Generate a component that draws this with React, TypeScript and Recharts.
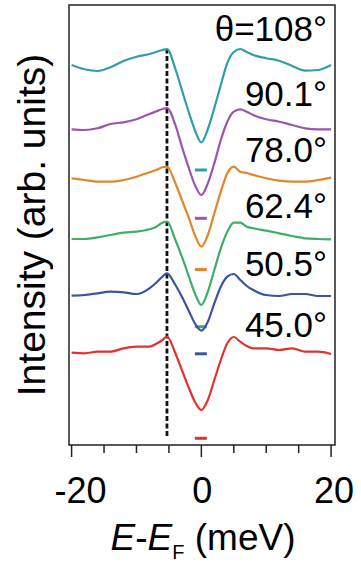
import { LineChart, Line, XAxis, YAxis, ReferenceLine, ReferenceArea } from "recharts";

// energy grid (meV)
const energy = [-20, -18, -16, -14, -12, -10, -8, -7, -6, -5.3, -4, -3, -2, -1, 0, 1, 2, 3, 4, 5, 6, 7, 8, 10, 12, 14, 16, 18, 20];

// stacked spectra (arb. units, offsets included)
const deg108 = [38.0, 37.57, 37.4, 37.77, 38.4, 38.83, 39.1, 39.3, 39.5, 39.6, 37.6, 35.5, 33.4, 31.5, 30.25, 31.6, 33.7, 36.0, 38.2, 39.3, 39.6, 39.3, 39.0, 38.67, 38.43, 37.9, 37.43, 37.5, 38.0];
const deg90 = [31.57, 31.5, 31.67, 32.1, 32.27, 32.57, 33.1, 33.35, 33.6, 33.7, 32.0, 29.83, 27.83, 26.0, 25.0, 26.17, 28.17, 30.5, 32.33, 33.33, 33.57, 33.33, 33.0, 32.57, 32.33, 32.0, 31.67, 31.57, 31.57];
const deg78 = [26.67, 26.5, 26.33, 26.33, 26.5, 26.83, 27.27, 27.5, 27.77, 27.83, 26.17, 24.5, 22.83, 21.0, 19.83, 21.0, 23.17, 25.33, 27.17, 27.83, 27.33, 27.2, 27.0, 26.67, 26.43, 26.33, 26.33, 26.5, 26.73];
const deg62 = [20.6, 20.6, 20.77, 21.0, 21.23, 21.33, 21.57, 21.8, 22.23, 22.35, 20.5, 18.83, 17.0, 15.17, 14.0, 15.33, 17.5, 19.67, 21.33, 22.23, 22.23, 21.83, 21.67, 21.43, 21.17, 20.9, 20.67, 20.6, 20.57];
const deg50 = [14.93, 15.0, 15.17, 15.33, 15.27, 15.1, 15.67, 16.2, 16.83, 17.17, 16.0, 14.83, 13.5, 12.17, 11.43, 12.33, 14.17, 15.83, 16.83, 17.1, 16.5, 15.9, 15.5, 15.0, 14.9, 15.1, 15.1, 14.9, 14.9];
const deg45 = [9.23, 9.17, 9.33, 9.33, 9.67, 9.83, 9.83, 10.1, 10.5, 10.85, 9.17, 7.5, 5.83, 4.33, 3.5, 4.5, 6.5, 8.5, 10.17, 10.8, 10.33, 9.9, 9.67, 9.67, 9.5, 9.67, 9.33, 9.33, 9.1];

const seriesKeys = ["d108", "d90", "d78", "d62", "d50", "d45"];
const seriesColors = ["#2f9ea6", "#9657ad", "#e3852c", "#3cae68", "#3a53a2", "#e5312d"];
const seriesLabels = ["θ=108°", "90.1°", "78.0°", "62.4°", "50.5°", "45.0°"];
// zero-intensity marks under each curve
const zeroLevels = [27.5, 22.67, 17.55, 11.83, 9.12, 0.67];
const zeroMarkRange = [-1.0, 0.85];
// dashed guide
const guideEnergy = -5.3;
const guideRange = [0.9, 39.6];

const xTicks = [-20, -15, -10, -5, 0, 5, 10, 15, 20];
const xMajor = [-20, 0, 20];

const allSeries = [deg108, deg90, deg78, deg62, deg50, deg45];
const data = energy.map((e, i) => {
  const row: Record<string, number> = { e };
  seriesKeys.forEach((k, j) => {
    row[k] = allSeries[j][i];
  });
  return row;
});

const FONT = "'Liberation Sans', Arial, Helvetica, sans-serif";

function XTick(props: any) {
  const { x, y, payload } = props;
  const v = payload.value as number;
  const major = xMajor.includes(v);
  const shift = v < 0 ? 9 : v > 0 ? 3 : 1;
  return (
    <g>
      <line x1={x} x2={x} y1={y} y2={y + (major ? 12 : 8)} stroke="#222" strokeWidth={1.5} />
      {major && (
        <text x={x + shift} y={y + 58} textAnchor="middle" fontSize={36} fontFamily={FONT} fill="#000">
          {String(v)}
        </text>
      )}
    </g>
  );
}

const labelBaselines = [40.7, 106, 162, 217.5, 276, 337];

export default function App() {
  return (
    <div style={{ position: "absolute", left: 0, top: 0, width: 361, height: 566, background: "#fff" }}>
      <LineChart
        width={361}
        height={566}
        data={data}
        margin={{ top: 5, right: 26, bottom: 61, left: 69 }}
      >
        <XAxis
          dataKey="e"
          type="number"
          domain={[-20.4, 20.6]}
          ticks={xTicks}
          interval={0}
          allowDataOverflow
          axisLine={false}
          tickLine={false}
          tickSize={0}
          tickMargin={0}
          height={60}
          tick={<XTick />}
        />
        <YAxis type="number" domain={[0, 44]} hide allowDataOverflow />
        <ReferenceArea
          x1={-20.4}
          x2={20.6}
          y1={0}
          y2={44}
          fill="none"
          stroke="#222"
          strokeWidth={1.5}
          fillOpacity={0}
        />
        <ReferenceLine
          segment={[
            { x: guideEnergy, y: guideRange[0] },
            { x: guideEnergy, y: guideRange[1] },
          ]}
          stroke="#111"
          strokeWidth={2.8}
          strokeDasharray="5 2.5"
        />
        {zeroLevels.map((lv, i) => (
          <ReferenceLine
            key={"z" + i}
            segment={[
              { x: zeroMarkRange[0], y: lv },
              { x: zeroMarkRange[1], y: lv },
            ]}
            stroke={seriesColors[i]}
            strokeWidth={3}
          />
        ))}
        {seriesKeys.map((k, i) => (
          <Line
            key={k}
            dataKey={k}
            type="monotone"
            stroke={seriesColors[i]}
            strokeWidth={2.2}
            dot={false}
            isAnimationActive={false}
          />
        ))}
      </LineChart>
      <svg
        width={361}
        height={566}
        style={{ position: "absolute", left: 0, top: 0, pointerEvents: "none" }}
      >
        {seriesLabels.map((t, i) => (
          <text
            key={t}
            x={327}
            y={labelBaselines[i]}
            textAnchor="end"
            fontSize={35}
            fontFamily={FONT}
            fill="#000"
          >
            {t}
          </text>
        ))}
        <text
          transform="translate(45,225) rotate(-90)"
          textAnchor="middle"
          fontSize={39}
          fontFamily={FONT}
          fill="#000"
        >
          Intensity (arb. units)
        </text>
        <text x={203} y={550} textAnchor="middle" fontSize={37} fontFamily={FONT} fill="#000">
          <tspan fontStyle="italic">E</tspan>
          <tspan>-</tspan>
          <tspan fontStyle="italic">E</tspan>
          <tspan fontSize={20} dy={9}>F</tspan>
          <tspan dy={-9}> (meV)</tspan>
        </text>
      </svg>
    </div>
  );
}
